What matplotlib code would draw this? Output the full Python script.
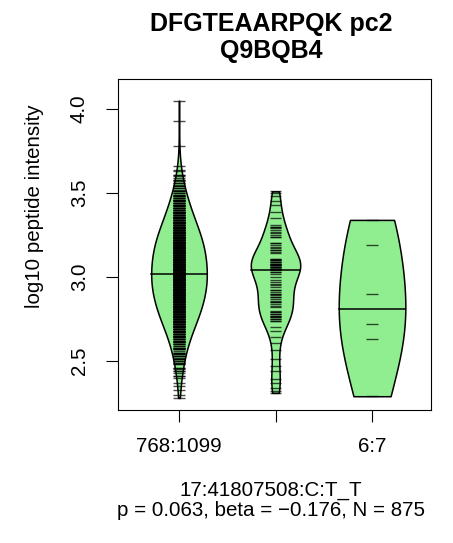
import numpy as np
import matplotlib
matplotlib.use('Agg')
import matplotlib.pyplot as plt

plt.rcParams['font.family'] = ['Liberation Sans', 'DejaVu Sans']

# Labels under each bean (the middle one is dropped in the original plot).
group_labels = ['768:1099', '', '6:7']

# Group 1: number of peptides per 0.01 step of log10 intensity, from 2.20 on.
group1_start = 2.20
group1_counts = [
    0, 0, 0, 0, 0, 0, 0, 0, 1, 0,            # 2.20
    1, 0, 0, 1, 0, 1, 0, 1, 0, 0,            # 2.30
    1, 2, 0, 1, 2, 1, 2, 0, 2, 2,            # 2.40
    2, 3, 1, 3, 2, 3, 1, 3, 3, 2,            # 2.50
    3, 4, 3, 4, 4, 4, 5, 4, 5, 5,            # 2.60
    6, 6, 7, 7, 7, 7, 8, 8, 8, 8,            # 2.70
    8, 9, 9, 9, 9, 9, 10, 10, 10, 10,        # 2.80
    10, 10, 11, 10, 11, 11, 11, 11, 11, 11,  # 2.90
    11, 11, 11, 11, 10, 11, 10, 10, 10, 10,  # 3.00
    11, 11, 10, 11, 10, 10, 10, 10, 10, 10,  # 3.10
    10, 9, 9, 9, 9, 8, 8, 8, 8, 8,           # 3.20
    7, 6, 7, 6, 6, 5, 6, 5, 5, 5,            # 3.30
    4, 5, 3, 4, 4, 3, 4, 3, 4, 2,            # 3.40
    2, 3, 1, 2, 2, 1, 2, 1, 2, 1,            # 3.50
    1, 2, 0, 1, 1, 0, 1, 0, 0, 0,            # 3.60
    0, 0, 0, 0, 0, 0, 0, 0, 1, 0,            # 3.70
    0, 0, 0, 0, 0, 0, 0, 0, 0, 0,            # 3.80
    0, 0, 0, 1, 0, 0, 0, 0, 0, 0,            # 3.90
    0, 0, 0, 0, 0, 1, 0, 0, 0, 0,            # 4.00
]

# Group 2: single values.
group2_values = [
    3.51, 3.50, 3.48, 3.45, 3.43, 3.39, 3.35,
    3.31, 3.30, 3.30, 3.29, 3.28, 3.27, 3.26, 3.25, 3.24, 3.24,
    3.20, 3.20, 3.19, 3.18, 3.17, 3.16, 3.16, 3.15, 3.14,
    3.11, 3.11, 3.10, 3.10, 3.10, 3.09, 3.09, 3.09, 3.08, 3.08, 3.08, 3.07,
    3.07, 3.07, 3.07, 3.06, 3.06, 3.06, 3.06, 3.05, 3.05, 3.05, 3.05, 3.05,
    3.04, 3.03, 3.03, 3.02, 3.00, 2.98, 2.97, 2.96, 2.95, 2.94,
    2.92, 2.92, 2.91, 2.90, 2.90, 2.89, 2.88, 2.88, 2.87, 2.86, 2.85, 2.85,
    2.84, 2.83, 2.82,
    2.80, 2.79, 2.79, 2.78, 2.78, 2.77, 2.77, 2.76, 2.76, 2.75,
    2.75, 2.74, 2.74,
    2.70, 2.68, 2.645, 2.605, 2.565, 2.51, 2.47, 2.44, 2.39, 2.37, 2.34,
    2.32, 2.31,
]

# Group 3: only six peptides.
group3_values = [3.34, 3.19, 2.90, 2.72, 2.63, 2.29]

title_lines = ['DFGTEAARPQK pc2', 'Q9BQB4']
snp_label = '17:41807508:C:T_T'
stats_label = 'p = 0.063, beta = \u22120.176, N = 875'

group1_values = np.repeat(
    np.round(group1_start + 0.01 * np.arange(len(group1_counts)), 3), group1_counts)
groups = [group1_values, np.array(group2_values), np.array(group3_values)]

# Kernel bandwidth and half-width of each bean.
bandwidths = [0.10, 0.085, 0.30]
half_widths = [0.288, 0.256, 0.345]
bean_color = '#90EE90'


def bean_density(values, bw, grid):
    d = (grid[:, None] - values[None, :]) / bw
    return np.exp(-0.5 * d ** 2).sum(axis=1)


fig = plt.figure(figsize=(4.53, 5.43), dpi=100)
ax = fig.add_axes([118 / 453, 133 / 543, 313 / 453, 331 / 543])

for i, vals in enumerate(groups):
    pos = i + 1
    grid = np.linspace(vals.min(), vals.max(), 400)
    dens = bean_density(vals, bandwidths[i], grid)
    half = dens / dens.max() * half_widths[i]
    ax.fill_betweenx(grid, pos - half, pos + half, facecolor=bean_color,
                     edgecolor='black', linewidth=1.1, zorder=2)
    ax.hlines(vals, pos - 0.06, pos + 0.06, color='black', alpha=0.7,
              linewidth=1.0, zorder=3)
    med = np.median(vals)
    mh = np.interp(med, grid, half)
    ax.plot([pos - mh, pos + mh], [med, med], color='black', linewidth=1.1,
            zorder=4)

ax.set_xlim(0.368, 3.611)
ax.set_ylim(2.208, 4.179)
ax.set_xticks([1, 2, 3])
ax.set_xticklabels(group_labels)
ax.set_yticks([2.5, 3.0, 3.5, 4.0])
ax.set_yticklabels(['2.5', '3.0', '3.5', '4.0'], rotation=90, va='center')
ax.tick_params(direction='out', length=8.6, width=0.8, labelsize=14.8,
               color='black')
ax.tick_params(axis='x', pad=11)
ax.tick_params(axis='y', pad=12.5)
for sp in ax.spines.values():
    sp.set_linewidth(0.8)

fig.text(35 / 453, 1 - 206 / 543, 'log10 peptide intensity', rotation=90,
         ha='center', va='center', fontsize=14.8)
fig.text(271 / 453, 1 - 24 / 543, title_lines[0], ha='center', va='center',
         fontsize=18, fontweight='bold')
fig.text(271 / 453, 1 - 51 / 543, title_lines[1], ha='center', va='center',
         fontsize=18, fontweight='bold')
fig.text(271 / 453, 1 - 490 / 543, snp_label, ha='center', va='center',
         fontsize=14.8)
fig.text(271 / 453, 1 - 510 / 543, stats_label, ha='center', va='center',
         fontsize=14.8)

fig.savefig('out.png', dpi=100)
